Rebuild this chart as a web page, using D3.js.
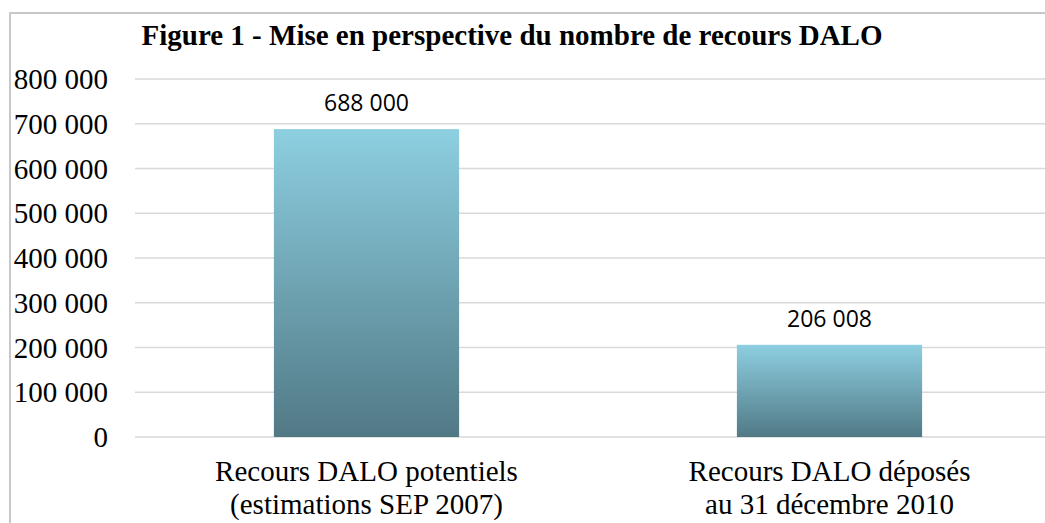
<!DOCTYPE html>
<html>
<head>
<meta charset="utf-8">
<script src="https://cdn.jsdelivr.net/npm/d3@7"></script>
<style>
  body { margin: 0; background: #fff; }
</style>
</head>
<body>
<div id="graph"></div>
<script>

// chart data
var categories = ["Recours DALO potentiels|(estimations SEP 2007)", "Recours DALO déposés|au 31 décembre 2010"];
var values = [688000, 206008];
var valueLabels = ["688 000", "206 008"];
var yTicks = [0, 100000, 200000, 300000, 400000, 500000, 600000, 700000, 800000];

var W = 1045, H = 523;

// set the dimensions and margins of the graph
var margin = {top: 79, right: -16, bottom: 86, left: 135},
    width = W - margin.left - margin.right,
    height = H - margin.top - margin.bottom;

var svg = d3.select("#graph")
  .append("svg")
    .attr("width", W)
    .attr("height", H);

// gradient for the bars
var grad = svg.append("defs").append("linearGradient")
    .attr("id", "barGrad")
    .attr("x1", 0).attr("y1", 0).attr("x2", 0).attr("y2", 1);
grad.append("stop").attr("offset", "0%").attr("stop-color", "#8dcfe1");
grad.append("stop").attr("offset", "100%").attr("stop-color", "#517985");

// outer frame (cut off on right and bottom)
svg.append("rect")
    .attr("x", 10).attr("y", 13)
    .attr("width", W).attr("height", H)
    .attr("fill", "none")
    .attr("stroke", "#c8c8c8")
    .attr("stroke-width", 2);

// title
svg.append("text")
    .attr("x", 512).attr("y", 45)
    .attr("text-anchor", "middle")
    .style("font-family", "Liberation Serif, Times New Roman, serif")
    .style("font-weight", "bold")
    .style("font-size", "29px")
    .text("Figure 1 - Mise en perspective du nombre de recours DALO");

var g = svg.append("g")
    .attr("transform", "translate(" + margin.left + "," + margin.top + ")");

var x = d3.scaleBand()
  .domain(categories)
  .range([0, width])
  .paddingInner(0.6)
  .paddingOuter(0.3);

var y = d3.scaleLinear()
  .domain([0, 800000])
  .range([height, 0]);

// gridlines
g.selectAll(".grid")
  .data(yTicks)
  .enter()
  .append("line")
    .attr("x1", 0).attr("x2", width)
    .attr("y1", function(d) { return y(d); })
    .attr("y2", function(d) { return y(d); })
    .attr("stroke", "#d9d9d9")
    .attr("stroke-width", 1.5);

// y axis labels
var fmt = function(d) { return d3.format(",")(d).replace(/,/g, " "); };
g.selectAll(".ylab")
  .data(yTicks)
  .enter()
  .append("text")
    .attr("x", -27)
    .attr("y", function(d) { return y(d); })
    .attr("dy", "0.35em")
    .attr("text-anchor", "end")
    .style("font-family", "Liberation Serif, Times New Roman, serif")
    .style("font-size", "29px")
    .text(fmt);

// bars
g.selectAll(".bar")
  .data(values)
  .enter()
  .append("rect")
    .attr("x", function(d, i) { return x(categories[i]); })
    .attr("y", function(d) { return y(d); })
    .attr("width", x.bandwidth())
    .attr("height", function(d) { return height - y(d); })
    .attr("fill", "url(#barGrad)");

// value labels
g.selectAll(".vlab")
  .data(values)
  .enter()
  .append("text")
    .attr("x", function(d, i) { return x(categories[i]) + x.bandwidth() / 2; })
    .attr("y", function(d) { return y(d) - 18; })
    .attr("text-anchor", "middle")
    .style("font-family", "Open Sans, Noto Sans, sans-serif")
    .style("font-size", "23px")
    .text(function(d, i) { return valueLabels[i]; });

// category labels, two lines each
var cat = g.selectAll(".clab")
  .data(categories)
  .enter()
  .append("text")
    .attr("text-anchor", "middle")
    .style("font-family", "Liberation Serif, Times New Roman, serif")
    .style("font-size", "29px");
cat.selectAll("tspan")
  .data(function(d) { return d.split("|").map(function(t) { return {t: t, c: d}; }); })
  .enter()
  .append("tspan")
    .attr("x", function(d) { return x(d.c) + x.bandwidth() / 2; })
    .attr("y", function(d, i) { return height + 44 + i * 33; })
    .text(function(d) { return d.t; });

</script>
</body>
</html>
